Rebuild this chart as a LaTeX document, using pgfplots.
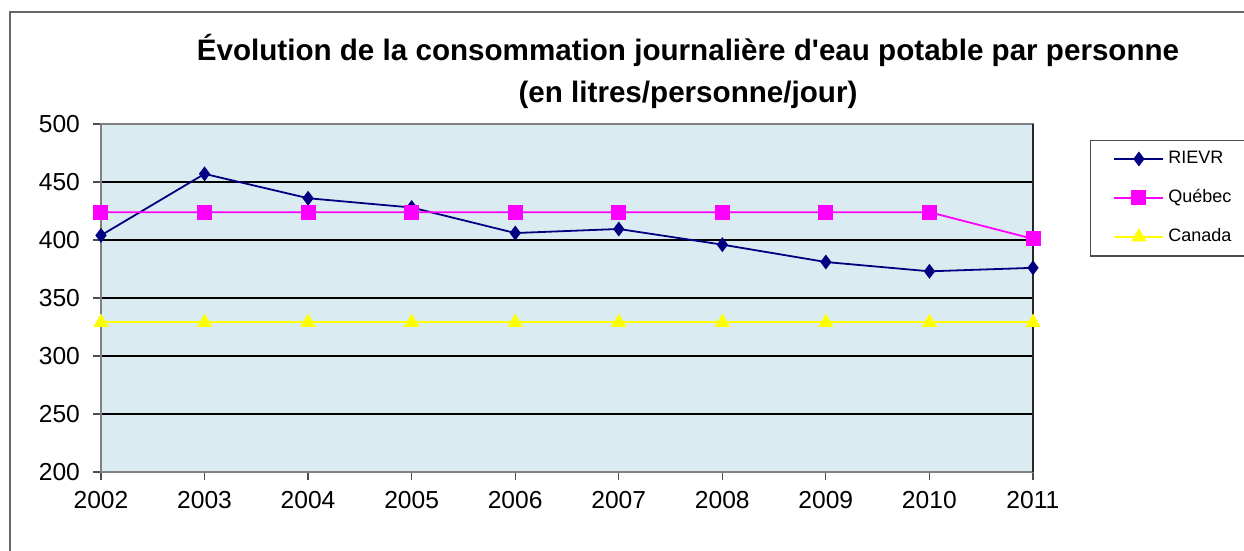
\documentclass[border=0pt]{standalone}
\usepackage{pgfplots}
\pgfplotsset{compat=1.18}
\usepackage{fontspec}
\setmainfont{Liberation Sans}
\definecolor{plotbg}{HTML}{DAEBF2}
\definecolor{rievr}{HTML}{000080}
\definecolor{quebec}{HTML}{FF00FF}
\definecolor{canada}{HTML}{FFFF00}
\definecolor{framegray}{HTML}{808080}

\begin{document}
\begin{tikzpicture}[x=0.5pt,y=0.5pt]
% page bounds (1244 x 551 px)
\path[use as bounding box] (0,0) rectangle (1244,551);
% outer chart frame (cut at right and bottom)
\draw[framegray!80!black, line width=1pt] (10,0) -- (10,539) -- (1244,539);

\begin{axis}[
    at={(50.5pt,39.5pt)}, anchor=south west,
    scale only axis,
    width=466pt, height=174pt,
    xmin=2002, xmax=2011,
    ymin=200, ymax=500,
    xtick={2002,...,2011},
    ytick={200,250,...,500},
    xticklabel style={/pgf/number format/1000 sep={}, yshift=-2pt},
    yticklabel style={xshift=-3pt},
    /pgf/number format/assume math mode=true,
    tick label style={font=\fontsize{12.3}{14}\selectfont},
    xtick pos=bottom, ytick pos=left,
    tick align=outside,
    major tick length=4pt,
    ymajorgrids,
    grid style={black, line width=0.6pt},
    axis background/.style={fill=plotbg},
    axis line style={framegray, line width=0.8pt},
    tick style={framegray!60!black, line width=0.6pt},
    clip=false,
    legend style={at={(1.061,0.955)}, anchor=north west,
        draw=black!70, line width=0.6pt, fill=white,
        font=\fontsize{9}{10}\selectfont,
        row sep=7.5pt, inner xsep=5pt, inner ysep=3.5pt},
    legend cell align=left,
    legend image code/.code={
        \path (0cm,0cm);
        \draw[#1] (0.23cm,0cm) -- (1.09cm,0cm);
        \draw[#1, mark repeat=2, mark phase=2] plot coordinates {(0.23cm,0cm) (0.66cm,0cm) (1.09cm,0cm)};
    },
]
\draw[black!70!framegray, line width=1.2pt] (axis cs:2011,200) -- (axis cs:2011,500);

\addplot[rievr, line width=0.9pt, mark=diamond*, mark size=3pt] coordinates {
(2002,404)(2003,457)(2004,436)(2005,428)(2006,406)(2007,409.5)(2008,396)(2009,381)(2010,373)(2011,376)};
\addlegendentry{RIEVR}

\addplot[quebec, line width=0.9pt, mark=square*, mark size=3.3pt] coordinates {
(2002,424)(2003,424)(2004,424)(2005,424)(2006,424)(2007,424)(2008,424)(2009,424)(2010,424)(2011,401)};
\addlegendentry{Québec}

\addplot[canada, line width=0.9pt, mark=triangle*, mark size=3.5pt] coordinates {
(2002,329)(2003,329)(2004,329)(2005,329)(2006,329)(2007,329)(2008,329)(2009,329)(2010,329)(2011,329)};
\addlegendentry{Canada}
\end{axis}

\node[font=\bfseries\fontsize{14.8}{18}\selectfont, align=center] at (688,480)
  {Évolution de la consommation journalière d\textquotesingle eau potable par personne\\[3pt](en litres/personne/jour)};
\end{tikzpicture}
\end{document}
